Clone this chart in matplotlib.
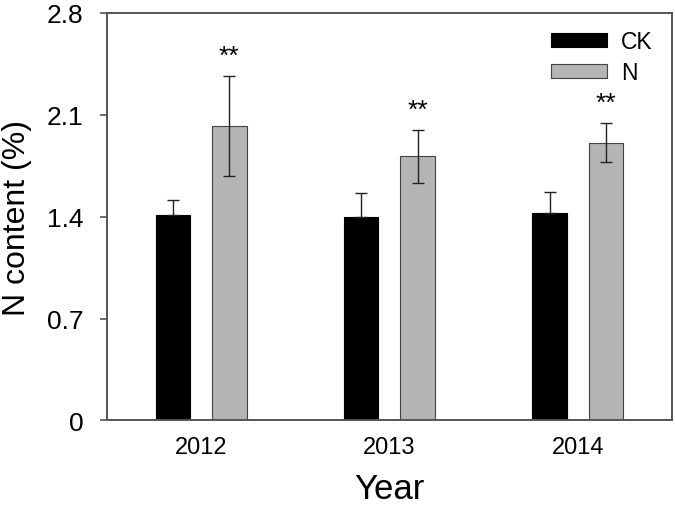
import numpy as np
import matplotlib
matplotlib.use('Agg')
import matplotlib.pyplot as plt

plt.rcParams['font.family'] = ['Liberation Sans', 'DejaVu Sans']

# Data
years = ['2012', '2013', '2014']
ck_mean = [1.414, 1.396, 1.423]
ck_err = [0.10, 0.167, 0.147]
n_mean = [2.024, 1.815, 1.909]
n_err = [0.344, 0.184, 0.136]
sig = ['**', '**', '**']
yticks = [0, 0.7, 1.4, 2.1, 2.8]
ytick_labels = ['0', '0.7', '1.4', '2.1', '2.8']

x = np.arange(len(years))
w = 0.183
off = 0.15

fig = plt.figure(figsize=(6.75, 5.06), dpi=100)
ax = fig.add_axes([0.1585, 0.167, 0.837, 0.8055])

ax.bar(x - off, ck_mean, w, color='black', edgecolor='black', linewidth=0.8, label='CK')
ax.bar(x + off, n_mean, w, color='#b4b4b4', edgecolor='#444444', linewidth=0.8, label='N')
# CK only shows the upper whisker
ax.errorbar(x - off, ck_mean, yerr=[np.zeros(len(ck_err)), ck_err], fmt='none',
            ecolor='#222222', elinewidth=1.0, capsize=4.3, capthick=1.0)
ax.errorbar(x + off, n_mean, yerr=n_err, fmt='none', ecolor='#222222',
            elinewidth=1.0, capsize=4.3, capthick=1.0)

# significance marks
for xi, m, e, s in zip(x + off, n_mean, n_err, sig):
    ax.text(xi, m + e + 0.09, s, ha='center', va='baseline', fontsize=19)

ax.set_xlim(-0.5, 2.5)
ax.set_ylim(0, 2.8)
ax.set_xticks(x)
ax.set_xticklabels(years, fontsize=17)
ax.set_yticks(yticks)
ax.set_yticklabels(ytick_labels, fontsize=19)
ax.tick_params(axis='x', length=0, pad=11)
ax.tick_params(axis='y', direction='out', length=5, width=1.2, color='#555555', pad=12)

for sp in ax.spines.values():
    sp.set_color('#555555')
    sp.set_linewidth(1.4)

ax.set_xlabel('Year', fontsize=25, labelpad=10)
ax.set_ylabel('N content (%)', fontsize=23)
ax.yaxis.set_label_coords(-0.132, 0.5)

leg = ax.legend(loc='upper right', bbox_to_anchor=(0.966, 0.958), frameon=False,
                fontsize=16.5, handlelength=2.45, handleheight=0.55, handletextpad=0.6,
                labelspacing=0.35, borderpad=0, borderaxespad=0)

fig.savefig('out.png', dpi=100)
